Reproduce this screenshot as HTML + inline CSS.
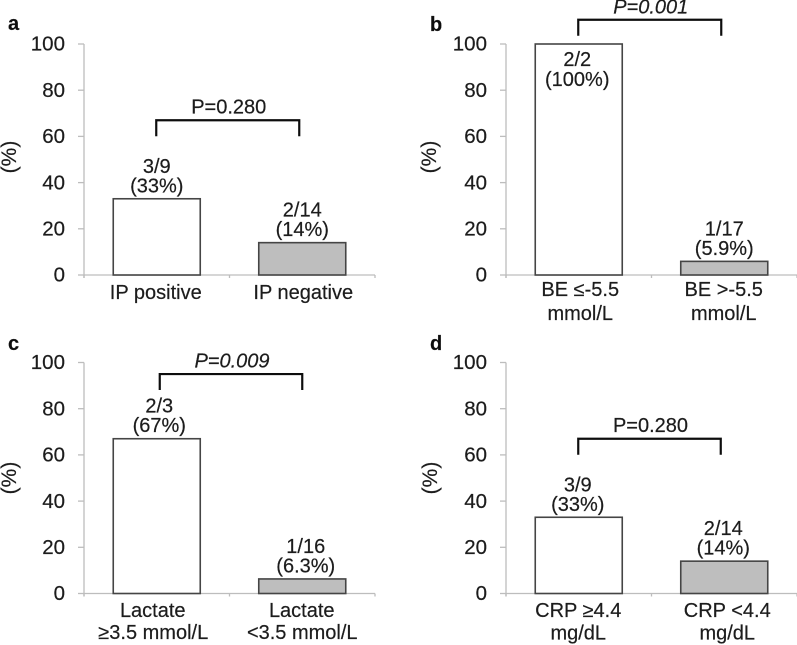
<!DOCTYPE html>
<html lang="en">
<head>
<meta charset="utf-8">
<title>Four-panel bar chart</title>
<style>
html,body{margin:0;padding:0;background:#fff;width:797px;height:645px;overflow:hidden}
svg{display:block}
text{font-family:"Liberation Sans",Arial,sans-serif;font-size:20px;fill:#1c1c1c;stroke:#1c1c1c;stroke-width:0.2px}
</style>
</head>
<body>
<svg id="chart" width="797" height="645" viewBox="0 0 797 645" xmlns="http://www.w3.org/2000/svg">
<defs><filter id="soften" x="0" y="0" width="100%" height="100%"><feGaussianBlur stdDeviation="0.35"/></filter></defs>
<rect x="0" y="0" width="797" height="645" fill="#ffffff"/>
<g id="plots" filter="url(#soften)"></g>
</svg>
<script>
// ---- Data ----
const panelLetters = ['a', 'b', 'c', 'd'];
const yTicks = [0, 20, 40, 60, 80, 100];
const yAxisLabel = '(%)';
const percentValuesA = [33, 14];
const percentValuesB = [100, 5.9];
const percentValuesC = [67, 6.3];
const percentValuesD = [33, 14];
const fractionLabelsA = ['3/9', '2/14'];
const fractionLabelsB = ['2/2', '1/17'];
const fractionLabelsC = ['2/3', '1/16'];
const fractionLabelsD = ['3/9', '2/14'];
const percentLabelsA = ['(33%)', '(14%)'];
const percentLabelsB = ['(100%)', '(5.9%)'];
const percentLabelsC = ['(67%)', '(6.3%)'];
const percentLabelsD = ['(33%)', '(14%)'];
const categoriesA = [['IP positive'], ['IP negative']];
const categoriesB = [['BE ≤-5.5', 'mmol/L'], ['BE >-5.5', 'mmol/L']];
const categoriesC = [['Lactate', '≥3.5 mmol/L'], ['Lactate', '<3.5 mmol/L']];
const categoriesD = [['CRP ≥4.4', 'mg/dL'], ['CRP <4.4', 'mg/dL']];
const pValues = ['P=0.280', 'P=0.001', 'P=0.009', 'P=0.280'];
const pItalic = [false, true, true, false];
const bracketLevels = [67, 110.5, 95, 67];

const allValues = [percentValuesA, percentValuesB, percentValuesC, percentValuesD];
const allFractions = [fractionLabelsA, fractionLabelsB, fractionLabelsC, fractionLabelsD];
const allPercents = [percentLabelsA, percentLabelsB, percentLabelsC, percentLabelsD];
const allCategories = [categoriesA, categoriesB, categoriesC, categoriesD];

// ---- Layout ----
const AXIS_W = 291, AXIS_H = 231, BAR_W = 87, Y_MAX = 100;
const layouts = [
  {x0: 84,  y0: 275,   lx: 8,   ly: 30,  yl: 16,  ylc: 157, lab: [0, 0],     cat: [[-1, 1], [1, 1]],     catY: [24, 24],     pdx: 0,   pdy: -6.5, bx: [-0.5, 0]},
  {x0: 506, y0: 275,   lx: 430, ly: 31,  yl: 436, ylc: 157, lab: [-1.5, 0],  cat: [[1.5, 1.5], [-0.5, -0.5]], catY: [21, 45], pdx: 0, pdy: -6, bx: [-0.5, 0]},
  {x0: 84,  y0: 593.5, lx: 8,   ly: 350, yl: 16,  ylc: 478, lab: [2.5, 3.5], cat: [[-4, -3.5], [-0.5, 0]], catY: [23.5, 45.5], pdx: 0, pdy: -6.5, bx: [3, 3]},
  {x0: 506, y0: 593.5, lx: 430, ly: 350, yl: 437, ylc: 478, lab: [-1, -1],   cat: [[-0.5, -0.5], [3, 3]], catY: [23.5, 46], pdx: 0,   pdy: -6.5, bx: [-0.5, -0.5]}
];

const plots = document.getElementById('plots');
const NS = 'http://www.w3.org/2000/svg';

function make(tag, parent, attrs, txt) {
  const node = document.createElementNS(NS, tag);
  for (const k in attrs) node.setAttribute(k, attrs[k]);
  if (txt !== undefined) node.textContent = txt;
  parent.appendChild(node);
  return node;
}

panelLetters.forEach(function (letter, p) {
  const L = layouts[p];
  const yScale = function (v) { return L.y0 - (v / Y_MAX) * AXIS_H; };
  const bandCenter = function (i) { return L.x0 + (i + 0.5) * (AXIS_W / 2); };

  const g = make('g', plots, {});
  
  

  const letterEl = make('text', g, {x: L.lx, y: L.ly, 'font-weight': 'bold', style: 'font-size:20px;fill:#111'}, letter);
  
  

  const yAxis = make('line', g, {x1: L.x0, x2: L.x0, y1: yScale(Y_MAX), y2: L.y0 + 3, stroke: '#bdbdbd', 'stroke-width': 1.3});
  
  

  const xAxis = make('line', g, {x1: L.x0, x2: L.x0 + AXIS_W, y1: L.y0, y2: L.y0, stroke: '#bdbdbd', 'stroke-width': 1.3});
  
  

  yTicks.forEach(function (t) {
    const tick = make('line', g, {x1: L.x0 - 6, x2: L.x0, y1: yScale(t), y2: yScale(t), stroke: '#bdbdbd', 'stroke-width': 1.3});
    
    
    const tl = make('text', g, {x: L.x0 - 19, y: yScale(t) + 6.7, 'text-anchor': 'end', style: 'font-size:20.5px'}, t);
    
    
  });

  [0, 1, 2].forEach(function (i) {
    const xt = L.x0 + i * AXIS_W / 2;
    const tick = make('line', g, {x1: xt, x2: xt, y1: L.y0, y2: L.y0 + 3, stroke: '#bdbdbd', 'stroke-width': 1.3});
    
    
  });

  const yl = make('text', g, {transform: 'translate(' + L.yl + ',' + L.ylc + ') rotate(-90)', 'text-anchor': 'middle', style: 'font-size:21px'}, yAxisLabel);
  
  

  allValues[p].forEach(function (v, i) {
    const cx = bandCenter(i);
    const top = yScale(v);
    const bar = make('rect', g, {
      x: cx - BAR_W / 2, y: top, width: BAR_W, height: L.y0 - top,
      fill: i === 0 ? '#ffffff' : '#bebebe', stroke: '#444444', 'stroke-width': 1.6
    });
    
    

    const inside = v >= 90;
    const y1 = inside ? top + 22 : top - 26;
    const y2 = inside ? top + 42 : top - 6.5;
    const lx = cx + L.lab[i];
    const f = make('text', g, {x: lx, y: y1, 'text-anchor': 'middle'}, allFractions[p][i]);
    
    
    const pc = make('text', g, {x: lx, y: y2, 'text-anchor': 'middle'}, allPercents[p][i]);
    
    

    allCategories[p][i].forEach(function (line, j) {
      const c = make('text', g, {x: cx + L.cat[i][j], y: L.y0 + L.catY[j], 'text-anchor': 'middle'}, line);
      
      
    });
  });

  const by = yScale(bracketLevels[p]);
  const bx1 = bandCenter(0) + L.bx[0];
  const bx2 = bandCenter(0) + AXIS_W / 2 - 3 + L.bx[1];
  const br = make('path', g, {
    d: 'M' + bx1 + ' ' + (by + 16) + 'V' + by + 'H' + bx2 + 'V' + (by + 16),
    fill: 'none', stroke: '#0a0a0a', 'stroke-width': 2.2
  });
  
  

  const pt = make('text', g, {x: (bx1 + bx2) / 2 + 1, y: by - 6.5, 'text-anchor': 'middle', 'font-style': pItalic[p] ? 'italic' : 'normal'}, pValues[p]);
  
  
});
</script>
</body>
</html>
